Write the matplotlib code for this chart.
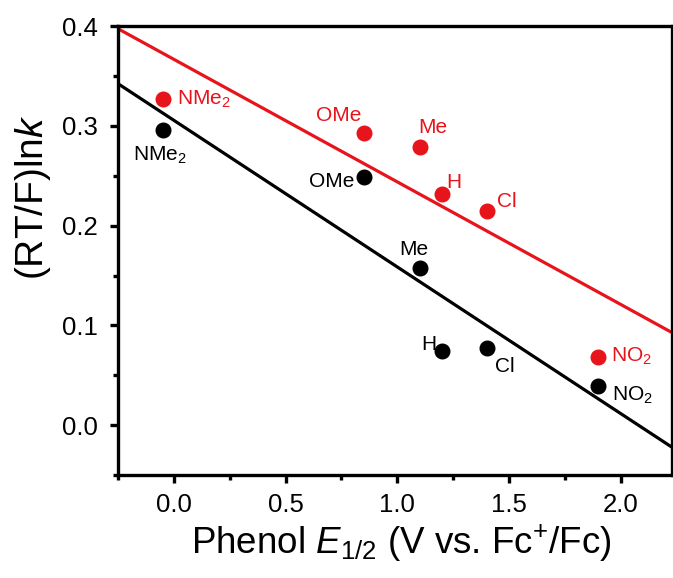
import numpy as np
import matplotlib
matplotlib.use('Agg')
import matplotlib.pyplot as plt

plt.rcParams['font.family'] = ['Liberation Sans', 'DejaVu Sans']
plt.rcParams['mathtext.fontset'] = 'custom'
plt.rcParams['mathtext.rm'] = 'Liberation Sans'
plt.rcParams['mathtext.it'] = 'Liberation Sans:italic'

# substituents and their phenol E1/2 values (V vs Fc+/Fc)
subst = ['NMe$_2$', 'OMe', 'Me', 'H', 'Cl', 'NO$_2$']
e_half = [-0.05, 0.85, 1.10, 1.20, 1.40, 1.90]
# (RT/F)ln k for the two data sets
y_black = [0.296, 0.249, 0.158, 0.074, 0.077, 0.039]
y_red = [0.327, 0.293, 0.279, 0.232, 0.215, 0.068]

# label offsets in pixels (dx, dy, ha)
off_black = [(-3, -26, 'center'), (-9, -5, 'right'), (-6, 18, 'center'),
             (-6, 7, 'right'), (8, -18, 'left'), (14, -9, 'left')]
off_red = [(14, 0, 'left'), (-25, 17, 'center'), (13, 19, 'center'),
           (4, 11, 'left'), (10, 9, 'left'), (13, 1, 'left')]

fig = plt.figure(figsize=(6.73, 5.78), dpi=100)
ax = fig.add_axes([0.1753, 0.178, 0.8232, 0.777])

xlim = (-0.25, 2.23)
xfit = np.array(xlim)
for ys, col, offs in [(y_black, 'black', off_black), (y_red, '#e8141b', off_red)]:
    m, b = np.polyfit(e_half, ys, 1)  # linear fit through the points
    ax.plot(xfit, m * xfit + b, color=col, lw=2.3, zorder=2)
    ax.plot(e_half, ys, 'o', color=col, ms=10.5, zorder=3)
    for x, y, s, (dx, dy, ha) in zip(e_half, ys, subst, offs):
        ax.annotate(s, (x, y), xytext=(dx, dy), textcoords='offset pixels',
                    ha=ha, va='center', fontsize=15, color=col)

ax.set_xlim(*xlim)
ax.set_ylim(-0.05, 0.4)
ax.set_xticks([0.0, 0.5, 1.0, 1.5, 2.0])
ax.set_xticks([-0.25, 0.25, 0.75, 1.25, 1.75], minor=True)
ax.set_yticks([0.0, 0.1, 0.2, 0.3, 0.4])
ax.set_yticks([-0.05, 0.05, 0.15, 0.25, 0.35], minor=True)
ax.xaxis.set_major_formatter(matplotlib.ticker.FormatStrFormatter('%.1f'))
ax.yaxis.set_major_formatter(matplotlib.ticker.FormatStrFormatter('%.1f'))

for sp in ax.spines.values():
    sp.set_linewidth(2.4)
ax.tick_params(which='major', direction='out', length=6, width=2.4,
               labelsize=18.5, top=False, right=False)
ax.tick_params(axis='y', which='major', pad=8.5)
ax.tick_params(axis='x', which='major', pad=7)
ax.tick_params(which='minor', direction='out', length=3.5, width=2.4,
               top=False, right=False)

ax.set_xlabel('Phenol $E_{1/2}$ (V vs. Fc$^{+}$/Fc)', fontsize=26.5)
ax.set_ylabel('(RT/F)ln$k$', fontsize=28)
ax.xaxis.set_label_coords(0.511, -0.174)
ax.xaxis.label.set_va('baseline')
ax.yaxis.set_label_coords(-0.135, 0.618)
ax.yaxis.label.set_va('baseline')
ax.yaxis.label.set_rotation_mode('anchor')

fig.savefig('out.png', dpi=100)
